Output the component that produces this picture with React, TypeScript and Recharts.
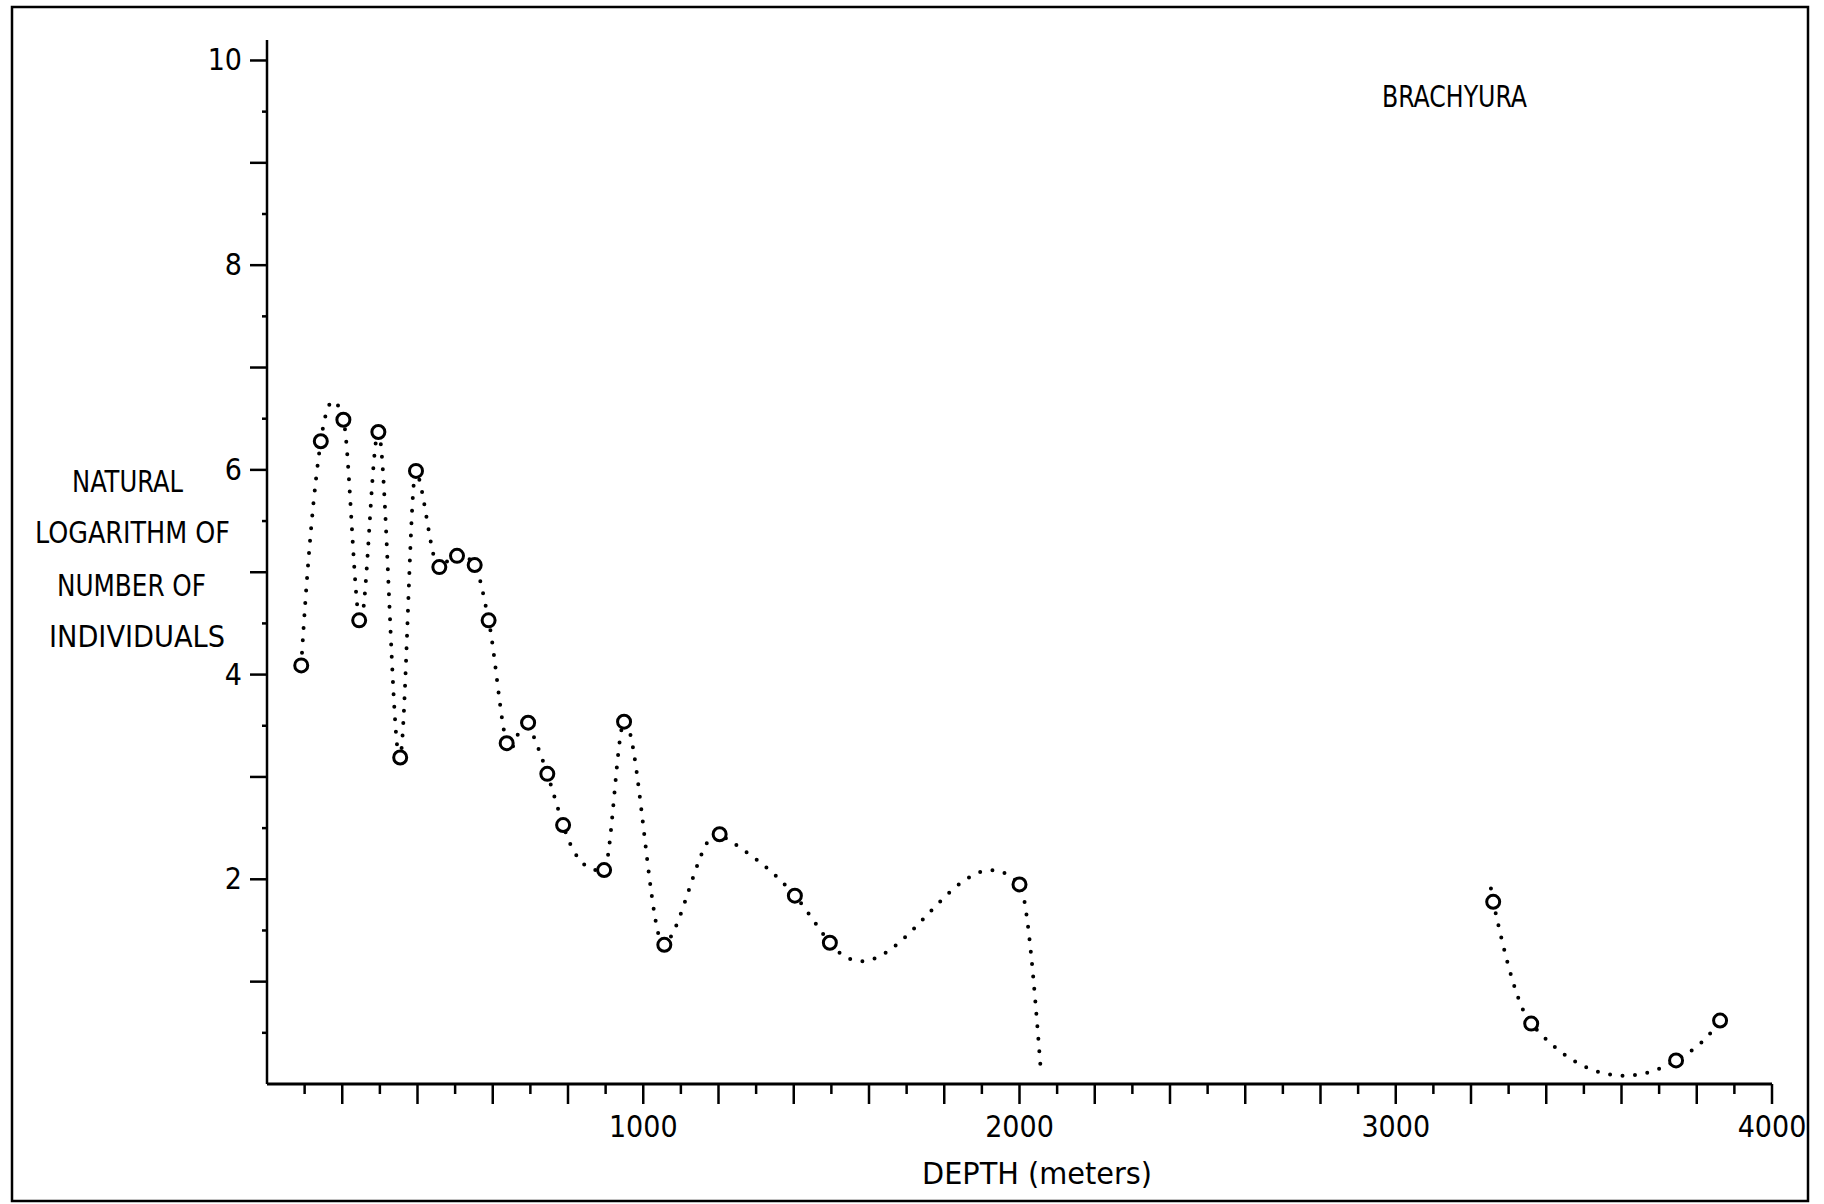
import { ComposedChart, Line, Scatter, XAxis, YAxis } from 'recharts';

// Brachyura catch vs depth
const depthM = [91, 143, 203, 245, 296, 354, 396, 458, 505, 552, 589, 637, 694, 745, 787, 896, 949, 1056, 1203, 1403, 1496, 2000, 3259, 3360, 3745, 3862];
const lnIndividuals = [4.09, 6.28, 6.49, 4.53, 6.37, 3.19, 5.99, 5.05, 5.16, 5.07, 4.53, 3.33, 3.53, 3.03, 2.53, 2.09, 3.54, 1.36, 2.44, 1.84, 1.38, 1.95, 1.78, 0.59, 0.23, 0.62];
// the first 22 stations share one fitted curve, the deep ones another
const shallowCount = 22;
// where each dotted curve runs out past its stations
const curveEndDepth = [2056, 3253];
const curveEndLn = [0.16, 1.91];

const xTicks = Array.from({ length: 40 }, (_, i) => (i + 1) * 100);
const xTickLabels = [1000, 2000, 3000, 4000];
const yTicks = Array.from({ length: 20 }, (_, i) => (i + 1) * 0.5);
const yTickLabels = [2, 4, 6, 8, 10];
const yTitle = ['NATURAL', 'LOGARITHM OF', 'NUMBER OF', 'INDIVIDUALS'];
const chartTitle = 'BRACHYURA';
const xTitle = 'DEPTH (meters)';

type Pt = { depth: number; ln: number };

const samples: Pt[] = depthM.map((d, i) => ({ depth: d, ln: lnIndividuals[i] }));
const shallowCurve: Pt[] = [...samples.slice(0, shallowCount), { depth: curveEndDepth[0], ln: curveEndLn[0] }];
const deepCurve: Pt[] = [{ depth: curveEndDepth[1], ln: curveEndLn[1] }, ...samples.slice(shallowCount)];

const FONT = "'Liberation Sans Narrow', 'DejaVu Sans Condensed', 'DejaVu Sans', sans-serif";

// Akima spline y(x) - local slopes, same look as the old plotter curve
function akima(context: any) {
  let xs: number[] = [];
  let ys: number[] = [];
  return {
    areaStart() {},
    areaEnd() {},
    lineStart() {
      xs = [];
      ys = [];
    },
    point(x: number, y: number) {
      xs.push(+x);
      ys.push(+y);
    },
    lineEnd() {
      const n = xs.length;
      if (!n) return;
      context.moveTo(xs[0], ys[0]);
      if (n < 3) {
        for (let i = 1; i < n; i++) context.lineTo(xs[i], ys[i]);
        return;
      }
      const m: number[] = [];
      for (let i = 0; i < n - 1; i++) m.push((ys[i + 1] - ys[i]) / (xs[i + 1] - xs[i]));
      // two extrapolated segment slopes on each side
      const mA = 2 * m[0] - m[1];
      const mB = 2 * mA - m[0];
      const mY = 2 * m[n - 2] - m[n - 3];
      const mZ = 2 * mY - m[n - 2];
      const mm = [mB, mA, ...m, mY, mZ];
      const tan: number[] = [];
      for (let i = 0; i < n; i++) {
        const w1 = Math.abs(mm[i + 3] - mm[i + 2]);
        const w2 = Math.abs(mm[i + 1] - mm[i]);
        tan.push(w1 + w2 > 1e-12 ? (w1 * mm[i + 1] + w2 * mm[i + 2]) / (w1 + w2) : (mm[i + 1] + mm[i + 2]) / 2);
      }
      for (let i = 0; i < n - 1; i++) {
        const h = xs[i + 1] - xs[i];
        context.bezierCurveTo(
          xs[i] + h / 3, ys[i] + (tan[i] * h) / 3,
          xs[i + 1] - h / 3, ys[i + 1] - (tan[i + 1] * h) / 3,
          xs[i + 1], ys[i + 1],
        );
      }
    },
  };
}

function XTick({ x, y, payload }: any) {
  const v = payload.value as number;
  const long = v % 200 === 0;
  return (
    <g>
      <line x1={x} x2={x} y1={y} y2={y + (long ? 20 : 10)} stroke="#000" strokeWidth={2.5} />
      {xTickLabels.includes(v) && (
        <text x={x} y={y + 53} textAnchor="middle" fontFamily={FONT} fontSize={30} fill="#000">
          {v}
        </text>
      )}
    </g>
  );
}

function YTick({ x, y, payload }: any) {
  const v = payload.value as number;
  const long = Number.isInteger(v);
  return (
    <g>
      <line x1={x} x2={x - (long ? 17 : 5)} y1={y} y2={y} stroke="#000" strokeWidth={2.5} />
      {yTickLabels.includes(v) && (
        <text x={x - 25} y={y + 10} textAnchor="end" fontFamily={FONT} fontSize={30} fill="#000">
          {v}
        </text>
      )}
    </g>
  );
}

const Station = (p: any) => <circle cx={p.cx} cy={p.cy} r={6.5} fill="#fff" stroke="#000" strokeWidth={3} />;

const dotted = {
  type: akima as any,
  dataKey: 'ln',
  stroke: '#000',
  strokeWidth: 4,
  strokeDasharray: '0 12.5',
  strokeLinecap: 'round' as const,
  dot: false,
  activeDot: false,
  isAnimationActive: false,
};

export default function App() {
  return (
    <div style={{ position: 'absolute', left: 0, top: 0, width: 1824, height: 1204, background: '#fff' }}>
      <ComposedChart width={1824} height={1204} margin={{ top: 40, right: 52, bottom: 60, left: 207 }}>
        <XAxis
          type="number"
          dataKey="depth"
          domain={[0, 4000]}
          ticks={xTicks}
          interval={0}
          tickSize={0}
          tickMargin={0}
          tickLine={false}
          axisLine={{ stroke: '#000', strokeWidth: 3 }}
          tick={<XTick />}
          height={60}
        />
        <YAxis
          type="number"
          domain={[0, 10.2]}
          ticks={yTicks}
          interval={0}
          tickSize={0}
          tickMargin={0}
          tickLine={false}
          axisLine={{ stroke: '#000', strokeWidth: 2.5 }}
          tick={<YTick />}
          width={60}
        />
        <Line {...dotted} data={shallowCurve} />
        <Line {...dotted} data={deepCurve} />
        <Scatter data={samples} dataKey="ln" shape={Station} isAnimationActive={false} />
      </ComposedChart>

      <svg width={1824} height={1204} style={{ position: 'absolute', left: 0, top: 0, pointerEvents: 'none' }}>
        <rect x={12} y={7} width={1796} height={1194} fill="none" stroke="#000" strokeWidth={2.5} />
        <g fontFamily={FONT} fontSize={30} fill="#000">
          <text x={1382} y={107} textLength={145} lengthAdjust="spacingAndGlyphs">{chartTitle}</text>
          <text x={72} y={492} textLength={111} lengthAdjust="spacingAndGlyphs">{yTitle[0]}</text>
          <text x={35} y={543} textLength={195} lengthAdjust="spacingAndGlyphs">{yTitle[1]}</text>
          <text x={57} y={596} textLength={149} lengthAdjust="spacingAndGlyphs">{yTitle[2]}</text>
          <text x={49} y={647} textLength={176} lengthAdjust="spacingAndGlyphs">{yTitle[3]}</text>
          <text x={922} y={1184} textLength={230} lengthAdjust="spacingAndGlyphs">{xTitle}</text>
        </g>
      </svg>
    </div>
  );
}
